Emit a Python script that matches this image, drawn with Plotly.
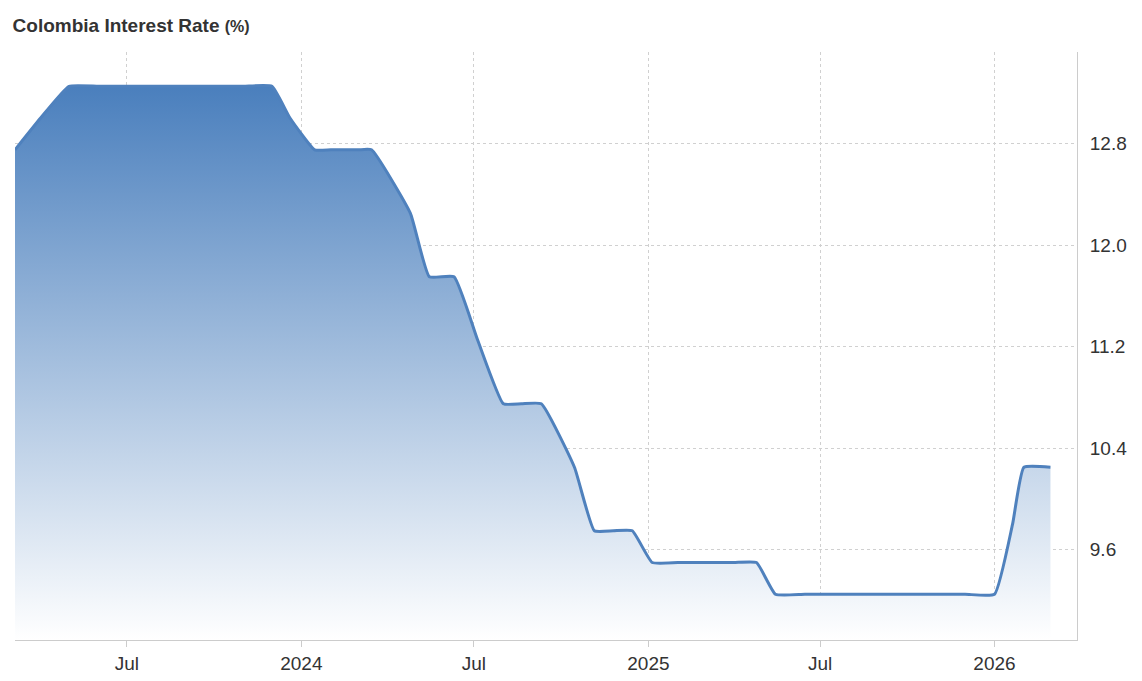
import plotly.graph_objects as go

dates = ["2023-03-05", "2023-04-01", "2023-05-01", "2023-06-01", "2023-07-01", "2023-08-01",
         "2023-09-01", "2023-10-01", "2023-11-01", "2023-12-01", "2023-12-20", "2024-01-15",
         "2024-02-01", "2024-03-01", "2024-03-15", "2024-04-25", "2024-05-15", "2024-06-10",
         "2024-07-05", "2024-08-01", "2024-08-20", "2024-09-10", "2024-10-15", "2024-11-05",
         "2024-11-25", "2024-12-15", "2025-01-05", "2025-02-01", "2025-03-01", "2025-04-01",
         "2025-04-25", "2025-05-15", "2025-06-15", "2025-08-01", "2025-10-01", "2025-12-01",
         "2026-01-01", "2026-01-20", "2026-02-01", "2026-03-01"]
rates = [12.75, 13.0, 13.25, 13.25, 13.25, 13.25,
         13.25, 13.25, 13.25, 13.25, 13.0, 12.75,
         12.75, 12.75, 12.75, 12.25, 11.75, 11.75,
         11.25, 10.75, 10.75, 10.75, 10.25, 9.75,
         9.75, 9.75, 9.5, 9.5, 9.5, 9.5,
         9.5, 9.25, 9.25, 9.25, 9.25, 9.25,
         9.25, 9.8, 10.25, 10.25]
y_min, y_max = 8.89, 13.52

fig = go.Figure()
fig.add_scatter(x=dates, y=[y_min] * len(dates), mode="lines",
                line=dict(width=0), hoverinfo="skip")
fig.add_scatter(
    x=dates, y=rates, mode="lines",
    line=dict(color="#4f81bd", width=3, shape="spline", smoothing=0.4),
    fill="tonexty",
    fillgradient=dict(type="vertical", start=y_min, stop=13.25,
                      colorscale=[[0, "rgba(255,255,255,1)"], [1, "rgba(74,127,189,1)"]]),
    hoverinfo="x+y",
)

fig.update_layout(
    width=1142, height=681,
    paper_bgcolor="white", plot_bgcolor="white",
    margin=dict(l=7, r=73, t=44, b=49),
    showlegend=False,
    font=dict(family="Arial, Liberation Sans", color="#333"),
    title=dict(text="<b>Colombia Interest Rate</b> <span style='font-size:16px'><b>(%)</b></span>",
               x=0.004, xanchor="left", y=0.985, font=dict(size=19, color="#333")),
)
fig.update_xaxes(
    range=["2023-03-05", "2026-03-29"],
    tickvals=["2023-07-01", "2024-01-01", "2024-07-01", "2025-01-01", "2025-07-01", "2026-01-01"],
    ticktext=["Jul", "2024", "Jul", "2025", "Jul", "2026"],
    showgrid=True, gridcolor="#d0d0d0", griddash="dot",
    showline=True, linecolor="#ccc", ticks="outside", tickcolor="#ccc", ticklen=6,
    tickfont=dict(size=19, color="#333"),
)
fig.update_yaxes(
    side="right", range=[y_min, y_max],
    tickvals=[9.6, 10.4, 11.2, 12.0, 12.8],
    ticktext=["9.6", "10.4", "11.2", "12.0", "12.8"],
    showgrid=True, gridcolor="#d0d0d0", griddash="dot",
    showline=True, linecolor="#ccc", zeroline=False,
    ticks="outside", tickcolor="#fff", ticklen=8,
    tickfont=dict(size=19, color="#333"),
)
fig.write_html("out.html")
